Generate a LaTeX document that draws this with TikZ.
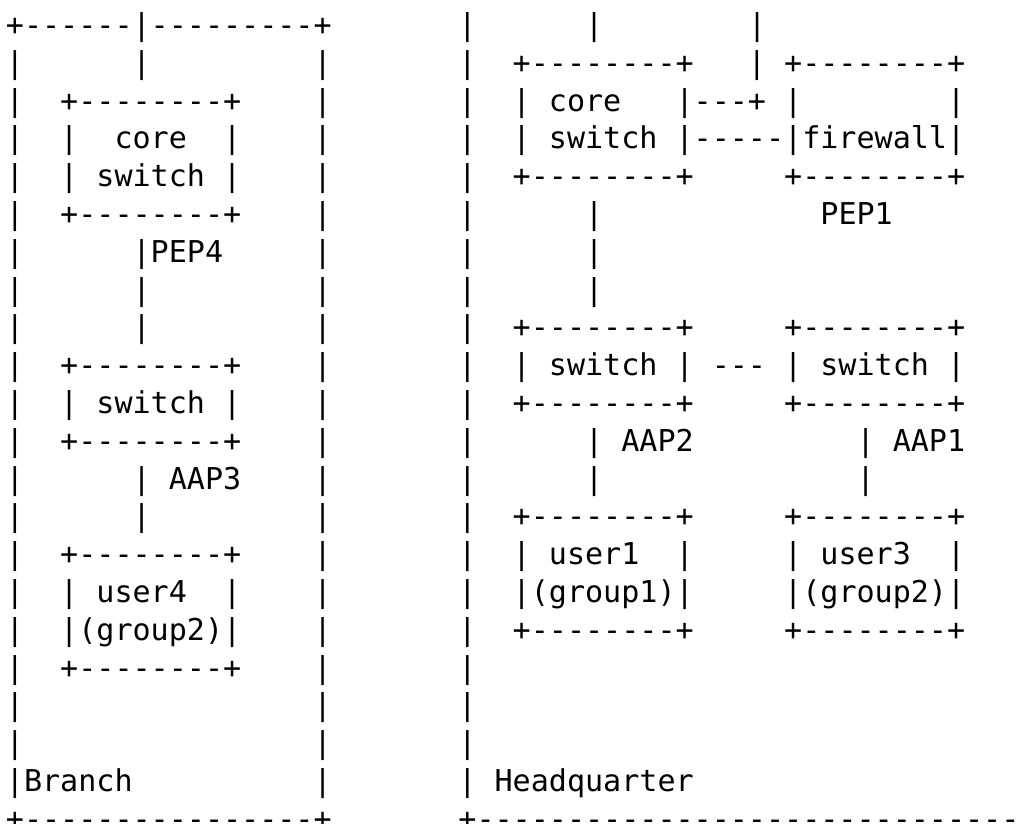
\documentclass[tikz,border=0pt]{standalone}
\usepackage{fontspec}
\newfontfamily\asciimono{DejaVu Sans Mono}
\begin{document}
\begin{tikzpicture}[x=1pt,y=-1pt,
  asciiline/.style={anchor=base west,inner sep=0pt,outer sep=0pt,font={\asciimono\fontsize{30.06pt}{30pt}\selectfont}}]
\clip (0,0) rectangle (1020,824);
\def\lx{5.95}
\def\rx{458.45}
% Branch (left)
\node[asciiline] (l1)  at (\lx,35.5)  {+------|---------+};
\node[asciiline] (l2)  at (\lx,73.3)  {|~~~~~~|~~~~~~~~~|};
\node[asciiline] (l3)  at (\lx,111.1) {|~~+--------+~~~~|};
\node[asciiline] (l4)  at (\lx,148.9) {|~~|~~core~~|~~~~|};
\node[asciiline] (l5)  at (\lx,186.7) {|~~|~switch~|~~~~|};
\node[asciiline] (l6)  at (\lx,224.5) {|~~+--------+~~~~|};
\node[asciiline] (l7)  at (\lx,262.3) {|~~~~~~|PEP4~~~~~|};
\node[asciiline] (l8)  at (\lx,300.1) {|~~~~~~|~~~~~~~~~|};
\node[asciiline] (l9)  at (\lx,337.9) {|~~~~~~|~~~~~~~~~|};
\node[asciiline] (l10) at (\lx,375.7) {|~~+--------+~~~~|};
\node[asciiline] (l11) at (\lx,413.5) {|~~|~switch~|~~~~|};
\node[asciiline] (l12) at (\lx,451.3) {|~~+--------+~~~~|};
\node[asciiline] (l13) at (\lx,489.1) {|~~~~~~|~AAP3~~~~|};
\node[asciiline] (l14) at (\lx,526.9) {|~~~~~~|~~~~~~~~~|};
\node[asciiline] (l15) at (\lx,564.7) {|~~+--------+~~~~|};
\node[asciiline] (l16) at (\lx,602.5) {|~~|~user4~~|~~~~|};
\node[asciiline] (l17) at (\lx,640.3) {|~~|(group2)|~~~~|};
\node[asciiline] (l18) at (\lx,678.1) {|~~+--------+~~~~|};
\node[asciiline] (l19) at (\lx,715.9) {|~~~~~~~~~~~~~~~~|};
\node[asciiline] (l20) at (\lx,753.7) {|~~~~~~~~~~~~~~~~|};
\node[asciiline] (l21) at (\lx,791.5) {|Branch~~~~~~~~~~|};
\node[asciiline] (l22) at (\lx,829.3) {+----------------+};
% Headquarter (right)
\node[asciiline] (r1)  at (\rx,35.5)  {|~~~~~~|~~~~~~~~|};
\node[asciiline] (r2)  at (\rx,73.3)  {|~~+--------+~~~|~+--------+};
\node[asciiline] (r3)  at (\rx,111.1) {|~~|~core~~~|---+~|~~~~~~~~|};
\node[asciiline] (r4)  at (\rx,148.9) {|~~|~switch~|-----|firewall|};
\node[asciiline] (r5)  at (\rx,186.7) {|~~+--------+~~~~~+--------+};
\node[asciiline] (r6)  at (\rx,224.5) {|~~~~~~|~~~~~~~~~~~~PEP1};
\node[asciiline] (r7)  at (\rx,262.3) {|~~~~~~|};
\node[asciiline] (r8)  at (\rx,300.1) {|~~~~~~|};
\node[asciiline] (r9)  at (\rx,337.9) {|~~+--------+~~~~~+--------+};
\node[asciiline] (r10) at (\rx,375.7) {|~~|~switch~|~---~|~switch~|};
\node[asciiline] (r11) at (\rx,413.5) {|~~+--------+~~~~~+--------+};
\node[asciiline] (r12) at (\rx,451.3) {|~~~~~~|~AAP2~~~~~~~~~|~AAP1};
\node[asciiline] (r13) at (\rx,489.1) {|~~~~~~|~~~~~~~~~~~~~~|};
\node[asciiline] (r14) at (\rx,526.9) {|~~+--------+~~~~~+--------+};
\node[asciiline] (r15) at (\rx,564.7) {|~~|~user1~~|~~~~~|~user3~~|};
\node[asciiline] (r16) at (\rx,602.5) {|~~|(group1)|~~~~~|(group2)|};
\node[asciiline] (r17) at (\rx,640.3) {|~~+--------+~~~~~+--------+};
\node[asciiline] (r18) at (\rx,678.1) {|};
\node[asciiline] (r19) at (\rx,715.9) {|};
\node[asciiline] (r20) at (\rx,753.7) {|};
\node[asciiline] (r21) at (\rx,791.5) {|~Headquarter};
\node[asciiline] (r22) at (\rx,829.3) {+------------------------------};
\end{tikzpicture}
\end{document}
